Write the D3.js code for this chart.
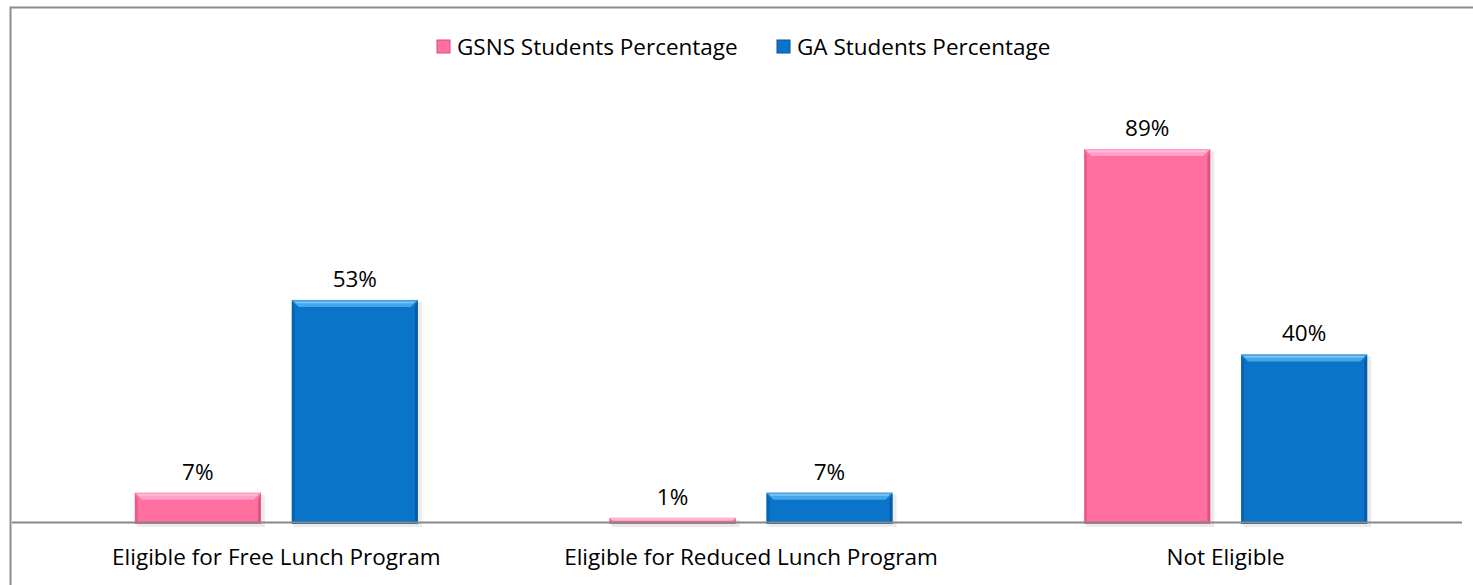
<!DOCTYPE html>
<html>
<head>
<meta charset="utf-8">
<script src="https://cdn.jsdelivr.net/npm/d3@7"></script>
<style>
  body { margin: 0; background: #fff; }
  svg { display: block; }
</style>
</head>
<body>
<div id="chart"></div>
<script>
(function() {
  // data
  var categories = ['Eligible for Free Lunch Program', 'Eligible for Reduced Lunch Program', 'Not Eligible'];
  var seriesNames = ['GSNS Students Percentage', 'GA Students Percentage'];
  var gsnsValues = [7, 1, 89];
  var gaValues = [53, 7, 40];

  var colors = ['#ff6fa0', '#0a74c8'],
      tops = ['#ffb0d6', '#5ab8f5'],
      sides = ['#d84a7c', '#07559a'];

  var width = 1473, height = 585,
      baseY = 522,
      fontSize = 22.5;

  var svg = d3.select('#chart').append('svg')
    .attr('width', width)
    .attr('height', height)
    .attr('font-family', '"Open Sans", sans-serif');

  // outer border (runs off the right and bottom)
  svg.append('rect')
    .attr('x', 10.5).attr('y', 7.5)
    .attr('width', width).attr('height', height)
    .attr('fill', 'none')
    .attr('stroke', '#8c8c8c')
    .attr('stroke-width', 2);

  var x0 = d3.scaleBand()
    .domain(categories)
    .range([39, 1463]);

  var x1 = d3.scaleBand()
    .domain(seriesNames)
    .range([0, 283])
    .paddingInner(0.197);

  var y = d3.scaleLinear()
    .domain([0, 100])
    .range([baseY, 103]);

  var pad = (x0.bandwidth() - x1.range()[1]) / 2;

  var rows = [];
  categories.forEach(function(c, i) {
    [gsnsValues[i], gaValues[i]].forEach(function(v, s) {
      rows.push({ cat: c, s: s, v: v });
    });
  });

  // bars
  var bars = svg.append('g').selectAll('g')
    .data(rows)
    .join('g')
      .attr('transform', function(d) {
        return 'translate(' + (x0(d.cat) + pad + x1(seriesNames[d.s])) + ',0)';
      });

  bars.each(function(d) {
    var g = d3.select(this),
        w = x1.bandwidth(),
        top = y(d.v),
        bot = baseY + 2,
        h = bot - top,
        b = Math.min(7, h / 2);

    // soft shadow
    g.append('rect')
      .attr('x', 2).attr('y', top + 2)
      .attr('width', w + 2).attr('height', h + 1)
      .attr('fill', '#000').attr('opacity', 0.08);

    g.append('rect')
      .attr('x', 0).attr('y', top)
      .attr('width', w).attr('height', h)
      .attr('fill', colors[d.s]);

    // bevel: top
    g.append('polygon')
      .attr('points', [[0, top], [w, top], [w - b, top + b], [b, top + b]].join(' '))
      .attr('fill', tops[d.s]).attr('opacity', 0.75);
    g.append('line')
      .attr('x1', b * 0.5).attr('x2', w - b * 0.5)
      .attr('y1', top + b * 0.35).attr('y2', top + b * 0.35)
      .attr('stroke', '#fff').attr('stroke-opacity', 0.35).attr('stroke-width', 1.5);
    // bevel: sides
    g.append('polygon')
      .attr('points', [[0, top], [b * 0.4, top + b], [b * 0.4, bot - b * 0.4], [0, bot]].join(' '))
      .attr('fill', sides[d.s]).attr('opacity', 0.55);
    g.append('polygon')
      .attr('points', [[w, top], [w - b * 0.4, top + b], [w - b * 0.4, bot - b * 0.4], [w, bot]].join(' '))
      .attr('fill', sides[d.s]).attr('opacity', 0.8);
    // bevel: bottom
    g.append('polygon')
      .attr('points', [[0, bot], [b * 0.4, bot - b * 0.4], [w - b * 0.4, bot - b * 0.4], [w, bot]].join(' '))
      .attr('fill', sides[d.s]).attr('opacity', 0.45);

    // value label
    g.append('text')
      .attr('x', w / 2)
      .attr('y', top - 13)
      .attr('text-anchor', 'middle')
      .attr('font-size', fontSize)
      .attr('fill', '#000')
      .text(d.v + '%');
  });

  // axis line
  svg.append('line')
    .attr('x1', 12).attr('x2', 1462)
    .attr('y1', baseY + 0.5).attr('y2', baseY + 0.5)
    .attr('stroke', '#888').attr('stroke-width', 2);

  // category labels
  svg.append('g').selectAll('text')
    .data(categories)
    .join('text')
      .attr('x', function(d) { return x0(d) + x0.bandwidth() / 2; })
      .attr('y', 565)
      .attr('text-anchor', 'middle')
      .attr('font-size', fontSize)
      .attr('fill', '#000')
      .text(function(d) { return d; });

  // legend
  var legendX = [437, 777];
  var legend = svg.append('g').selectAll('g')
    .data(seriesNames)
    .join('g')
      .attr('transform', function(d, i) { return 'translate(' + legendX[i] + ',40)'; });

  legend.append('rect')
    .attr('width', 13).attr('height', 13)
    .attr('fill', function(d, i) { return colors[i]; })
    .attr('stroke', function(d, i) { return sides[i]; })
    .attr('stroke-width', 1);

  legend.append('text')
    .attr('x', 20)
    .attr('y', 15)
    .attr('font-size', fontSize)
    .attr('fill', '#000')
    .text(function(d) { return d; });
})();
</script>
</body>
</html>
